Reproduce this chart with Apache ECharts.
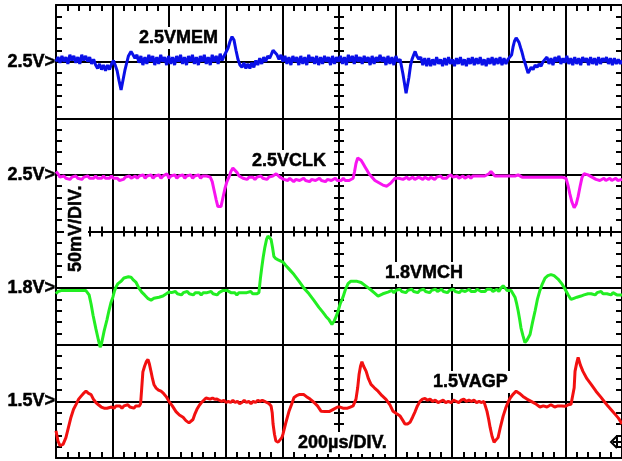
<!DOCTYPE html>
<html><head><meta charset="utf-8">
<script src="https://cdn.jsdelivr.net/npm/echarts@6/dist/echarts.min.js"></script>
<style>html,body{margin:0;padding:0;background:#fff}#c{width:622px;height:461px}</style>
</head><body><div id="c"></div>
<script>
// Scope settings
const usPerDiv = 200;          // 200µs/DIV.
const mvPerDiv = 50;           // 50mV/DIV.
const timeMinUs = 0;
const timeMaxUs = 2000;
const yTickLabels = ['', '1.5V>', '', '1.8V>', '', '2.5V>', '', '2.5V>', ''];
const channelNames = ['2.5VMEM', '2.5VCLK', '1.8VMCH', '1.5VAGP'];
const channelOffsetDiv = [7, 5, 3, 1];
const channelColors = ['#0a10e8', '#f814f0', '#22ee22', '#f21010'];

// [time µs, deviation mV]
const mem = [[0,0],[7,4],[14,-1],[21,5],[28,0],[35,4],[42,-2],[49,6],[56,1],[63,5],[70,-1],[77,4],[84,-2],[91,6],[98,1],[105,5],[112,0],[119,4],[126,-2],[133,2],
[140,-3],[147,-6],[154,-2],[161,-7],[168,-3],[175,-8],[182,-3],[189,-7],[196,-2],[203,1],[209,-3],
[216,-8],[223,-17],[230,-25],[237,-16],[244,-7],[250,-1],[256,5],[265,9],[272,6],[279,3],
[286,6],[293,-1],[300,5],[307,-3],[314,4],[321,-2],[328,6],[335,0],[342,5],[349,-3],[356,4],[363,-2],[370,6],[377,0],[384,4],[391,-3],[398,5],[405,-2],[412,4],[419,-3],[426,5],[433,0],[440,6],[447,-2],[454,4],[461,-3],[468,5],[475,0],[482,6],[489,-2],[496,4],[503,-3],[510,5],[517,0],[524,6],[531,-2],[538,4],[545,-3],[552,6],[559,0],[566,5],[573,-2],[580,7],[587,1],[594,5],
[601,6],[608,12],[615,18],[622,22],[629,19],[636,10],[643,2],[650,-3],[657,-5],[664,-1],[671,-6],[678,-2],[685,-6],[692,-1],[699,-5],[706,1],[713,-3],[720,3],[727,-2],[734,4],[741,0],[748,5],[755,3],[762,7],[767,10],[774,8],[781,6],[788,2],[795,6],[802,0],[809,5],[816,-2],[823,4],[830,-3],[837,5],[844,0],[851,4],[858,-3],[865,5],[872,-2],[879,4],[886,-3],[893,6],[900,0],[907,4],[914,-2],[921,5],[928,-3],[935,4],[942,-2],[949,5],[956,0],[963,4],[970,-3],[977,5],[984,-2],[991,4],[998,0],
[1005,5],[1012,-2],[1019,4],[1026,-3],[1033,6],[1040,0],[1047,5],[1054,-2],[1061,6],[1068,0],[1075,4],[1082,-2],[1089,5],[1096,0],[1103,4],[1110,-3],[1117,5],[1124,-2],[1131,4],[1138,0],[1145,6],[1152,0],[1159,4],[1166,-3],[1173,5],[1180,-2],[1187,4],[1194,-3],[1201,5],[1208,0],[1216,2],[1226,-11],[1237,-28],[1247,-14],[1253,-3],[1258,2],[1264,6],[1269,9],[1275,5],[1282,2],
[1289,4],[1296,-3],[1303,3],[1310,-4],[1317,3],[1324,-4],[1331,2],[1338,-3],[1345,4],[1352,-2],[1359,2],[1366,-4],[1373,3],[1380,-3],[1387,4],[1394,-2],[1401,2],[1408,-4],[1415,3],[1422,-2],[1429,4],[1436,-3],[1443,2],[1450,-4],[1457,3],[1464,-2],[1471,4],[1478,-3],[1485,3],[1492,-2],[1499,4],[1506,-3],[1513,2],[1520,-4],[1527,3],[1534,-2],[1541,4],[1548,-3],[1555,3],[1562,-2],[1569,4],[1576,-3],[1583,3],[1590,-2],[1597,2],[1604,1],
[1610,6],[1615,13],[1620,18],[1626,21],[1631,20],[1636,17],[1642,12],[1647,8],[1652,3],[1657,-1],[1663,-6],[1668,-10],[1673,-8],[1679,-5],[1686,-7],[1693,-3],[1700,-5],[1707,-2],[1714,-4],[1721,0],[1728,1],
[1735,4],[1742,-2],[1749,3],[1756,-3],[1763,4],[1770,0],[1777,5],[1784,-2],[1791,3],[1798,-1],[1805,5],[1812,-2],[1819,3],[1826,-3],[1833,4],[1840,-2],[1847,3],[1854,-3],[1861,4],[1868,0],[1875,3],[1882,-3],[1889,4],[1896,-2],[1903,3],[1910,-3],[1917,4],[1924,-2],[1931,3],[1938,0],[1945,4],[1952,-2],[1959,3],[1966,-3],[1973,3],[1980,-2],[1987,2],[1994,-2],[2000,1]];

const clk = [[0,3],[7,1],[14,-2],[21,-3],[28,-1],[35,-3],[42,-2],[49,-4],[56,-2],[63,-3],[70,-1],[77,-3],[84,-2],[91,-4],[98,-2],[105,-3],[112,-1],[119,-3],[126,-2],[133,-3],[140,-1],[147,-3],[154,-2],[161,-3],[168,-1],[175,-3],[182,-2],[189,-3],[196,-1],[203,-3],[210,-2],[217,-3],[224,-5],[231,-6],[238,-4],[245,-2],[252,-3],[259,-1],[266,-3],[273,-2],[280,-1],[287,-3],[294,-1],[301,-2],[308,0],[315,-3],[322,-1],[329,-2],[336,0],[343,-3],[350,-1],[357,-2],[364,0],[371,-3],[378,-1],[385,-2],[392,1],[399,-3],[406,-1],[413,-2],[420,0],[427,-3],[434,-1],[441,-2],[448,0],[455,-3],[462,-1],[469,-2],[476,0],[483,-3],[490,-1],[497,-2],[504,0],[511,-3],[518,-1],[525,-2],[532,-1],[539,-2],[545,-2],
[552,-6],[559,-14],[566,-22],[572,-28],[583,-28],[590,-20],[597,-12],[604,-6],[611,-2],[618,3],[625,6],[632,5],[640,2],[647,-1],[654,-2],
[661,-3],[668,-2],[675,-4],[682,-2],[689,-3],[696,-2],[703,-4],[710,-2],[717,-3],[724,-1],[731,-3],[738,-2],[745,-4],[752,-2],[759,-3],[766,-1],[772,0],[778,1],[784,0],[791,-2],[798,-3],[805,-4],[812,-3],[819,-5],[826,-3],[833,-4],[840,-6],[847,-4],[854,-3],[861,-5],[868,-4],[875,-3],[882,-5],[889,-4],[896,-6],[903,-4],[910,-3],[917,-5],[924,-4],[931,-3],[938,-5],[945,-4],[952,-6],[959,-4],[966,-3],[973,-5],[980,-4],[987,-3],[994,-5],[1001,-4],[1008,-5],[1015,-3],[1022,-5],[1029,-4],[1036,-5],[1043,-4],[1050,-3],
[1055,3],[1060,10],[1066,15],[1071,16],[1078,13],[1085,10],[1092,7],[1099,4],[1106,1],[1113,-1],[1120,-3],[1127,-5],[1134,-6],[1141,-7],[1148,-8],[1155,-9],[1162,-10],[1169,-10],[1176,-9],[1184,-7],[1191,-5],[1198,-3],[1205,-2],
[1212,-3],[1219,-2],[1226,-4],[1233,-3],[1240,-2],[1247,-4],[1254,-3],[1261,-2],[1268,-4],[1275,-3],[1282,-2],[1289,-3],[1296,-4],[1303,-2],[1310,-3],[1317,-4],[1324,-2],[1331,-3],[1338,-4],[1345,-2],[1352,-3],[1359,-1],[1366,-3],[1373,-2],[1380,-3],[1387,-1],[1396,0],[1403,-2],[1410,-3],[1417,-1],[1424,-3],[1431,-2],[1438,-1],[1445,-3],[1452,-2],[1459,-1],[1466,-3],[1473,-1],[1480,-2],[1487,-1],[1494,-2],[1501,-1],[1508,-2],[1515,-1],[1522,0],[1530,1],[1537,3],[1544,1],[1551,-1],[1558,-2],[1565,-1],[1572,-2],[1579,-1],[1586,-2],[1593,-1],[1600,-2],[1607,-1],[1614,-2],[1622,-1],[1633,0],[1640,-1],[1647,-2],[1654,-3],[1661,-2],[1668,-3],[1675,-2],[1682,-3],[1689,-2],[1696,-3],[1703,-2],[1710,-3],[1717,-2],[1724,-3],[1731,-2],[1738,-3],[1745,-2],[1752,-3],[1759,-2],[1766,-3],[1773,-2],[1780,-3],[1787,-2],[1794,-3],[1802,-3],
[1809,-9],[1816,-17],[1823,-24],[1831,-29],[1838,-26],[1845,-19],[1852,-10],[1859,-2],[1866,1],[1873,1],[1880,0],[1887,0],[1894,-2],[1901,-3],[1908,-4],[1915,-3],[1922,-5],[1929,-4],[1936,-3],[1943,-5],[1950,-4],[1957,-3],[1964,-5],[1971,-4],[1978,-3],[1985,-5],[1992,-4],[2000,-4]];

const mch = [[0,-5],[7,-3],[14,-2],[21,-2],[28,-1],[35,-2],[42,-1],[49,-2],[56,-1],[63,-2],[70,-1],[77,-2],[84,-1],[91,-2],[98,-1],[105,-2],[112,-3],[117,-6],[124,-14],[131,-24],[141,-36],[150,-46],[156,-52],[160,-50],[170,-38],[180,-28],[187,-20],[194,-13],[201,-8],[206,-3],[212,1],[219,4],[230,6],[240,9],[247,10.6],[256,10],[265,9.7],[274,7],[283,5],[293,0],[303,-3.5],[313,-6],[324,-9],[336,-10.6],[346,-9],[353,-8.8],[364,-8],[378,-7],[390,-5],[399,-3.5],
[408,-4],[415,-5],[422,-3],[429,-5],[436,-4],[443,-6],[450,-4],[457,-5],[464,-3],[471,-5],[478,-4],[485,-6],[492,-4],[499,-5],[506,-4],[513,-6],[520,-4],[527,-5],[534,-4],[541,-5],[548,-3],[555,-5],[562,-4],[569,-6],[576,-4],[583,-3],[590,-2],[597,-3],[604,-2],[611,-3],[618,-4],[625,-5],[632,-4],[639,-6],[646,-4],[653,-5],[660,-4],[667,-5],[674,-4],[681,-5],[688,-3],[695,-5],[702,-4],[709,-5],[717,-4],
[722,8],[727,18],[732,27],[738,36],[744,43],[749,46],[755,45],[760,43],[765,36],[770,28],[777,26],[785,25],[792,24],[802,23],[812,20],[823,17],[841,12],[859,6],[876,0],[894,-5],[912,-11],[929,-17],[942,-21],[954,-25],[965,-28],[975,-32],[983,-29],[990,-25],[997,-20],[1004,-14],[1014,-8],[1023,-1],[1032,4],[1041,6],[1050,6],[1064,6],[1078,5],[1094,2],[1110,-1],[1124,-4],[1138,-7],[1155,-5],[1173,-3.5],
[1180,-3],[1187,-2],[1194,-4],[1201,-2],[1208,-3],[1215,-1],[1222,-3],[1229,-2],[1236,-4],[1243,-2],[1250,-3],[1257,-1],[1264,-3],[1271,-2],[1278,-4],[1285,-2],[1292,-3],[1299,-1],[1306,-3],[1313,-2],[1320,-4],[1327,-2],[1334,-3],[1341,-1],[1348,-3],[1355,-2],[1362,-1],[1369,-3],[1376,-2],[1383,-4],[1390,-2],[1397,-3],[1404,-1],[1411,-3],[1418,-2],[1425,-4],[1432,-2],[1439,-1],[1446,-3],[1453,-2],[1460,-1],[1467,-3],[1474,-2],[1481,-3],[1488,-1],[1495,-2],[1502,-3],[1509,-2],[1516,-3],[1523,-1],[1530,-2],[1537,-1],[1544,-3],[1551,-2],[1558,-1],[1565,-3],[1572,0],[1580,2],[1587,0],[1594,-2],[1601,-1],[1608,-2],
[1615,-2],[1622,-8],[1628,-14],[1633,-20],[1638,-27],[1643,-35],[1650,-42],[1657,-48],[1664,-46],[1675,-41],[1684,-30],[1693,-20],[1701,-10],[1710,-2],[1719,4],[1728,8.8],[1738,11],[1749,12],[1760,11],[1774,8],[1787,4],[1799,-1],[1810,-6],[1820,-10],[1830,-9],[1841,-8],[1855,-7],[1866,-6],[1873,-7],[1880,-5],[1891,-5],[1898,-4],[1905,-6],[1912,-4],[1919,-5],[1926,-3],[1933,-5],[1940,-3.5],[1947,-5],[1954,-4],[1961,-6],[1968,-4],[1975,-5],[1982,-6],[1989,-5],[2000,-6]];

const agp = [[0,-26],[7,-35],[14,-39],[18,-40],[25,-38],[35,-32],[44,-23],[53,-14],[62,-7],[71,-2.6],[80,2],[88,4.4],[97,7],[106,9],[115,7],[124,6],[132,2],[141,-1],[150,-3],[160,-5],[170,-6],[180,-6],[187,-7],[196,-5],[205,-6],[212,-4],[219,-5],[226,-4],[233,-6],[240,-4],[247,-5],[254,-3],[261,-5],[268,-4],[275,-6],[282,-4],[289,-5],[295,-4],
[299,-2],[303,12],[307,26],[313,31],[319,35],[325,37],[330,33],[336,26],[341,20],[346,15],[353,12],[362,10],[371,9],[380,7],[390,4],[399,0],[411,-4],[424,-9],[436,-12],[449,-14],[459,-17],[470,-19],[477,-18],[484,-16],[491,-11],[498,-7],[505,-4],[514,-1],[522,1],[530,3],[537,3.5],[545,2],[553,3],[561,1.8],[569,2],[577,1],[585,0],[593,1],[601,-1],[609,0],[617,-1],[625,1],[633,-1],[641,0],[649,-2],[657,-1],[665,1],[673,-1],[681,0],[689,-2],[697,0],[705,-1],[713,1],[721,0],[729,1],[737,0],[745,-1],[753,-2],[760,-4],
[764,-10],[767,-20],[772,-29],[777,-35],[785,-36],[792,-36],[798,-32],[802,-29],[812,-19],[823,-9],[832,-3],[841,3.5],[850,5],[859,6],[866,7],[875,6],[884,4.4],[898,2],[912,-1],[924,-4],[937,-8.8],[950,-9],[965,-9],[980,-7],[995,-5],
[1004,-5],[1014,-6],[1021,-5],[1030,-6],[1040,-5],[1050,-4],[1057,-4],[1060,2],[1066,12],[1071,24],[1076,31],[1081,35],[1087,31],[1096,26.5],[1104,20],[1113,15],[1125,12],[1138,9],[1152,5],[1166,1.8],[1180,-3],[1191,-8.8],[1204,-11],[1216,-13],[1226,-17],[1233,-20],[1242,-20],[1251,-18.5],[1260,-14],[1269,-9],[1277,-4],[1286,0],[1295,2],[1304,2.6],[1313,1],[1322,2],[1331,0],[1340,1],[1350,-1],[1359,0],[1368,1],[1377,-1],[1386,0],[1396,-1],[1405,1],[1414,0],[1423,-1],[1432,1],[1441,2],[1450,0],[1459,1],[1468,0],[1477,1],[1486,-1],[1495,0],[1504,-1],[1512,0],[1519,-1],
[1523,-8.8],[1529,-16],[1534,-23],[1541,-31],[1548,-36],[1555,-34],[1562,-32],[1571,-22],[1580,-13],[1589,-6],[1597,-1],[1605,3],[1614,6],[1626,9],[1638,7],[1650,4.4],[1664,2],[1679,0],[1694,-2],[1710,-5],[1722,-4],[1735,-5],[1749,-3],[1762,-5],[1774,-4],[1787,-4],[1799,-4.4],[1810,-3],[1820,-2.6],[1827,-1],
[1831,12],[1834,26.5],[1840,34],[1845,38.8],[1853,32],[1862,26.5],[1876,20],[1891,15],[1908,9],[1926,3.5],[1940,-1],[1951,-4.4],[1964,-8],[1976,-11.5],[1988,-15],[2000,-20]];

const channelData = [mem, clk, mch, agp];

const chart = echarts.init(document.getElementById('c'), null, {renderer: 'canvas'});
const black = '#000';
const labelFont = 'bold 18px "Liberation Sans", Arial, sans-serif';

function xAx(position, offset, opts) {
  return Object.assign({
    type: 'value', min: timeMinUs, max: timeMaxUs, interval: usPerDiv, position, offset,
    axisLine: {show: true, onZero: false, lineStyle: {color: black, width: 2}},
    axisTick: {show: true, inside: true, length: 6, lineStyle: {color: black, width: 2}},
    minorTick: {show: true, splitNumber: 5, length: 6, lineStyle: {color: black, width: 2}},
    axisLabel: {show: false}, splitLine: {show: false}
  }, opts || {});
}
function yAx(position, offset, opts) {
  return Object.assign({
    type: 'value', min: 0, max: 8, interval: 1, position, offset,
    axisLine: {show: true, onZero: false, lineStyle: {color: black, width: 2}},
    axisTick: {show: true, inside: true, length: 6, lineStyle: {color: black, width: 2}},
    minorTick: {show: true, splitNumber: 5, length: 6, lineStyle: {color: black, width: 2}},
    axisLabel: {show: false}, splitLine: {show: false}
  }, opts || {});
}
const centerTick = {show: true, inside: true, length: 5, lineStyle: {color: black, width: 2}};
const centerMinor = {show: true, splitNumber: 5, length: 5, lineStyle: {color: black, width: 2}};

function textStyle(text, padding) {
  return {text, font: labelFont, fill: black, stroke: black, lineWidth: 0.5,
    backgroundColor: '#fff', padding, align: 'left', verticalAlign: 'middle'};
}
function textLabel(text, x, y, extra) {
  return Object.assign({type: 'text', x, y, z: 100, style: textStyle(text, [2, 3])}, extra || {});
}

chart.setOption({
  animation: false,
  backgroundColor: '#fff',
  grid: {left: 56, top: 5, width: 566, height: 453, containLabel: false},
  xAxis: [
    xAx('bottom', 0, {splitLine: {show: true, lineStyle: {color: black, width: 2}}}),
    xAx('top', 0),
    xAx('bottom', -226.5, {axisTick: centerTick, minorTick: centerMinor}),
    xAx('top', -226.5, {axisTick: centerTick, minorTick: centerMinor})
  ],
  yAxis: [
    yAx('left', 0, {
      splitLine: {show: true, lineStyle: {color: black, width: 2}},
      axisLabel: {show: true, margin: 1, color: black, fontFamily: '"Liberation Sans", Arial, sans-serif', fontWeight: 'bold', fontSize: 18,
        textBorderColor: black, textBorderWidth: 0.5,
        formatter: v => yTickLabels[Math.round(v)] || ''}
    }),
    yAx('right', 0),
    yAx('left', -283, {axisTick: centerTick, minorTick: centerMinor}),
    yAx('right', -283, {axisTick: centerTick, minorTick: centerMinor})
  ],
  series: channelData.map((d, i) => ({
    name: channelNames[i], type: 'line', xAxisIndex: 0, yAxisIndex: 0,
    showSymbol: false, symbol: 'none', z: 3,
    lineStyle: {color: channelColors[i], width: 3},
    data: d.map(p => [p[0], channelOffsetDiv[i] + p[1] / mvPerDiv])
  })),
  graphic: [
    textLabel(channelNames[0], 136, 38),
    textLabel(channelNames[1], 249, 161),
    textLabel(channelNames[2], 382, 273),
    textLabel(channelNames[3], 430, 382),
    textLabel('200\u00b5s/DIV.', 295, 443),
    {type: 'text', x: 76, y: 274, z: 100, rotation: Math.PI / 2, style: textStyle('50mV/DIV.', [3, 2])},
    {type: 'polyline', z: 100, shape: {points: [[617, 436], [611, 442], [617, 448]]}, style: {stroke: black, lineWidth: 2, fill: null}},
    {type: 'line', z: 100, shape: {x1: 617, y1: 436, x2: 617, y2: 448}, style: {stroke: black, lineWidth: 2}},
    {type: 'line', z: 100, shape: {x1: 613, y1: 442, x2: 622, y2: 442}, style: {stroke: black, lineWidth: 2}}
  ]
});
</script></body></html>
